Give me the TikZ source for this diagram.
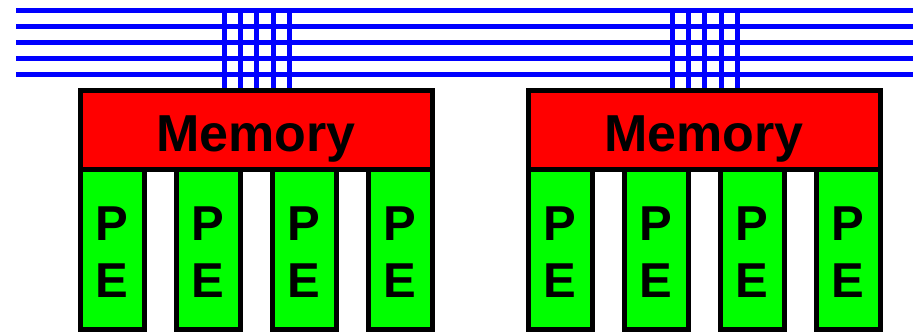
\documentclass[tikz,border=0pt]{standalone}
\usepackage{fontspec}
\setmainfont{Liberation Sans}
\begin{document}
\begin{tikzpicture}[x=1pt,y=-1pt,
  bus/.style={draw=blue, line width=5pt},
  membox/.style={draw=black, fill=red, line width=5pt, minimum width=352pt, minimum height=79.5pt, inner sep=0pt},
  pebox/.style={draw=black, fill=green, line width=5pt, minimum width=64pt, minimum height=159.5pt, inner sep=0pt},
  memtext/.style={font=\bfseries\fontsize{52}{52}\selectfont, anchor=base, inner sep=0pt},
  petext/.style={font=\bfseries\fontsize{49}{49}\selectfont, anchor=base, inner sep=0pt}]
\useasboundingbox (0,0) rectangle (913,332);
% horizontal bus lines
\foreach \i/\y in {1/10,2/26,3/42,4/58,5/74}{
  \coordinate (hl\i) at (16,\y);
  \coordinate (hr\i) at (913,\y);
  \draw[bus] (hl\i) -- (hr\i);
}
% vertical taps
\foreach \i/\x in {1/224,2/240.3,3/256.6,4/273,5/289.3,6/672,7/688.3,8/704.6,9/721,10/737.3}{
  \coordinate (vt\i) at (\x,10);
  \coordinate (vb\i) at (\x,90);
  \draw[bus] (vt\i) -- (vb\i);
}
% memories
\node[membox] (mem1) at (256,129.75) {};
\node[membox] (mem2) at (704,129.75) {};
\node[memtext] (memt1) at (256,151) {Memory};
\node[memtext] (memt2) at (704,151) {Memory};
% PEs
\foreach \i/\x in {1/112,2/208,3/304,4/400,5/560,6/656,7/752,8/848}{
  \node[pebox] (pe\i) at (\x,249.25) {};
  \node[petext] (pp\i) at (\x,240) {P};
  \node[petext] (pe\i e) at (\x,297) {E};
}
\end{tikzpicture}
\end{document}
